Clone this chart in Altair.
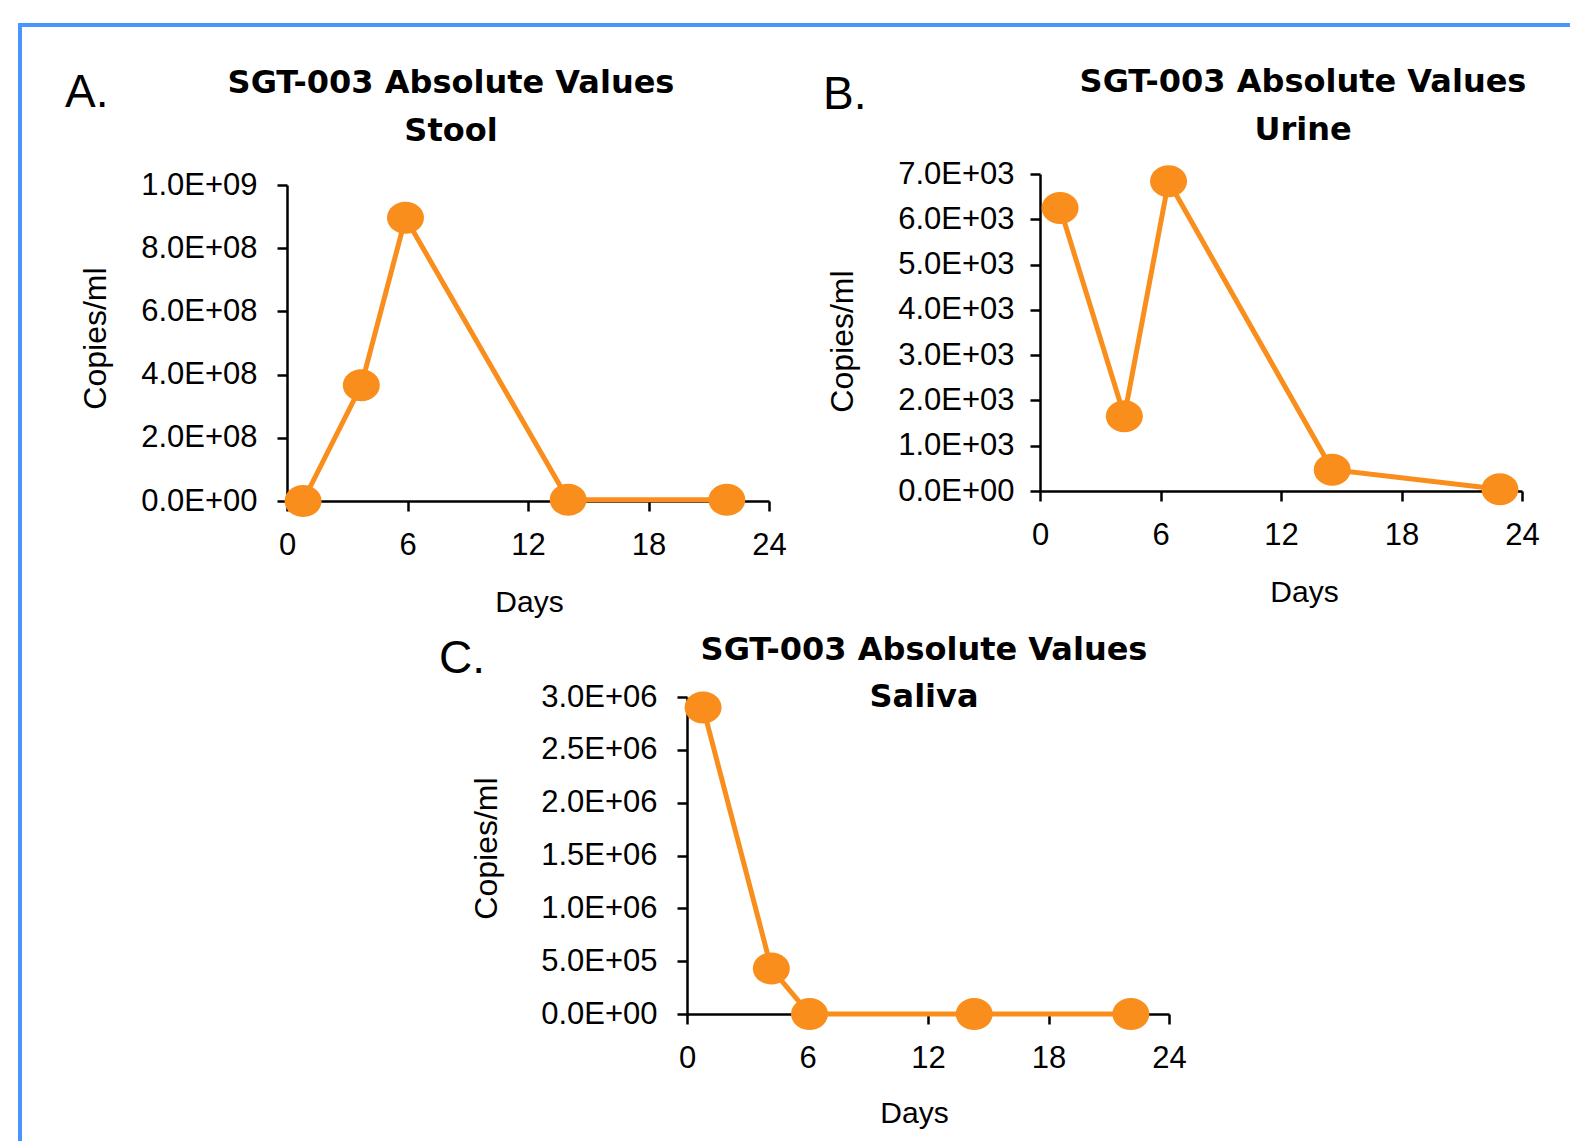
import altair as alt
import pandas as pd

# ---------------- data ----------------
STOOL_DAYS = [0.8, 3.7, 5.9, 14.0, 21.9]
STOOL_COPIES = [0, 3.66e8, 8.96e8, 4e6, 4e6]

URINE_DAYS = [1.0, 4.2, 6.4, 14.55, 22.9]
URINE_COPIES = [6250, 1650, 6840, 470, 40]

SALIVA_DAYS = [0.8, 4.2, 6.1, 14.3, 22.1]
SALIVA_COPIES = [2.9e6, 4.3e5, 0, 0, 0]

X_TICKS = [0, 6, 12, 18, 24]

STOOL_YTICKS = [0, 2e8, 4e8, 6e8, 8e8, 1e9]
STOOL_YLABELS = ["0.0E+00", "2.0E+08", "4.0E+08", "6.0E+08", "8.0E+08", "1.0E+09"]

URINE_YTICKS = [0, 1000, 2000, 3000, 4000, 5000, 6000, 7000]
URINE_YLABELS = ["0.0E+00", "1.0E+03", "2.0E+03", "3.0E+03", "4.0E+03",
                 "5.0E+03", "6.0E+03", "7.0E+03"]

SALIVA_YTICKS = [0, 5e5, 1e6, 1.5e6, 2e6, 2.5e6, 3e6]
SALIVA_YLABELS = ["0.0E+00", "5.0E+05", "1.0E+06", "1.5E+06", "2.0E+06",
                  "2.5E+06", "3.0E+06"]

TITLE_LINE1 = "SGT-003 Absolute Values"
PANEL_NAMES = ["Stool", "Urine", "Saliva"]
PANEL_LETTERS = ["A.", "B.", "C."]
X_TITLE = "Days"
Y_TITLE = "Copies/ml"

# ---------------- style ----------------
ORANGE = "#F98E1D"
BLUE = "#4A94FF"
FONT = "Liberation Sans"
TITLE_FONT = "DejaVu Sans"
ELLIPSE = "M-1,0A1,0.865,0,1,1,1,0A1,0.865,0,1,1,-1,0Z"
PW = 482


def label_expr(vals, labels):
    tol = max(vals) * 1e-6
    expr = "''"
    for v, l in reversed(list(zip(vals, labels))):
        expr = f"abs(datum.value - {float(v)!r}) < {tol!r} ? '{l}' : " + expr
    return expr


def panel(idx, days, copies, yticks, ylabels, h, geo):
    df = pd.DataFrame({"Days": days, "Copies": copies})
    x = alt.X(
        "Days:Q",
        scale=alt.Scale(domain=[0, 24], nice=False, zero=False),
        axis=alt.Axis(values=X_TICKS, title=X_TITLE, labelFlush=False,
                      titleX=geo["xtx"], titleY=geo["xty"],
                      titleBaseline="alphabetic", titleAlign="center"),
    )
    y = alt.Y(
        "Copies:Q",
        scale=alt.Scale(domain=[yticks[0], yticks[-1]], nice=False),
        axis=alt.Axis(values=yticks, labelExpr=label_expr(yticks, ylabels),
                      labelPadding=geo["lp"],
                      title=Y_TITLE, titleAngle=270, titleAlign="center",
                      titleBaseline="alphabetic",
                      titleX=geo["ytx"], titleY=geo["yty"]),
    )
    base = alt.Chart(df)
    line = base.mark_line(color=ORANGE, strokeWidth=5).encode(x=x, y=y)
    pts = base.mark_point(shape=ELLIPSE, size=1369, filled=True, opacity=1,
                          color=ORANGE, strokeWidth=0).encode(x="Days:Q", y="Copies:Q")

    lab = alt.Chart(pd.DataFrame({"line1": [TITLE_LINE1],
                                  "line2": [PANEL_NAMES[idx]],
                                  "letter": [PANEL_LETTERS[idx]]}))
    t1 = lab.mark_text(font=TITLE_FONT, fontSize=32, fontWeight="bold",
                       align="center", baseline="alphabetic", color="black").encode(
        x=alt.value(geo["tx"]), y=alt.value(geo["t1y"]), text="line1:N")
    t2 = lab.mark_text(font=TITLE_FONT, fontSize=32, fontWeight="bold",
                       align="center", baseline="alphabetic", color="black").encode(
        x=alt.value(geo["tx"]), y=alt.value(geo["t2y"]), text="line2:N")
    t3 = lab.mark_text(font=FONT, fontSize=46, align="left",
                       baseline="alphabetic", color="black").encode(
        x=alt.value(geo["lx"]), y=alt.value(geo["ly"]), text="letter:N")
    layers = [line, pts, t1, t2, t3]
    if idx == 0:
        one = alt.Chart(pd.DataFrame({"b": [0]}))
        left = one.mark_rect(color=BLUE).encode(
            x=alt.value(-269), x2=alt.value(-265),
            y=alt.value(-162), y2=alt.value(956))
        top = one.mark_rect(color=BLUE).encode(
            x=alt.value(-269), x2=alt.value(1283),
            y=alt.value(-162), y2=alt.value(-158))
        layers = [left, top] + layers
    return alt.layer(*layers).properties(width=PW, height=h)


def spacer(w, h):
    return alt.Chart(pd.DataFrame({"s": [0]})).mark_point(opacity=0).encode(
        x=alt.value(0), y=alt.value(0)).properties(width=w, height=h)


A = panel(0, STOOL_DAYS, STOOL_COPIES, STOOL_YTICKS, STOOL_YLABELS, 316,
          dict(xtx=242, xty=110, ytx=-182, yty=153, lp=20,
               tx=164, t1y=-92, t2y=-44, lx=-222, ly=-78))
B = panel(1, URINE_DAYS, URINE_COPIES, URINE_YTICKS, URINE_YLABELS, 317,
          dict(xtx=264, xty=110, ytx=-188, yty=167, lp=16,
               tx=263, t1y=-82, t2y=-34, lx=-217, ly=-65))
C = panel(2, SALIVA_DAYS, SALIVA_COPIES, SALIVA_YTICKS, SALIVA_YLABELS, 317,
          dict(xtx=227, xty=108, ytx=-191, yty=151, lp=20,
               tx=237, t1y=-37, t2y=10, lx=-248, ly=-24))

# nested concat groups count as zero-size under flush bounds,
# so the spacings include the size of the nested group
colA = alt.vconcat(spacer(1, 11), A, spacing=0, bounds="flush")
row1 = alt.hconcat(colA, B, spacing=753, bounds="flush")
row2 = alt.hconcat(spacer(400, 1), C, spacing=0, bounds="flush")

chart = alt.vconcat(row1, row2, spacing=523, bounds="flush").properties(
    padding={"left": 18, "top": 23, "right": 0, "bottom": 0},
    background="white",
).configure_view(stroke=None).configure_axis(
    domainColor="black", domainWidth=2.5, tickColor="black", tickWidth=2.5,
    tickSize=10, grid=False, labelFont=FONT, labelFontSize=31,
    labelColor="black", titleFont=FONT, titleFontSize=30,
    titleFontWeight="normal", titleColor="black",
).configure_axisX(labelPadding=19).configure_axisY(titleFontSize=32)

chart.save("out.html", embed_options={"renderer": "svg", "actions": False})
